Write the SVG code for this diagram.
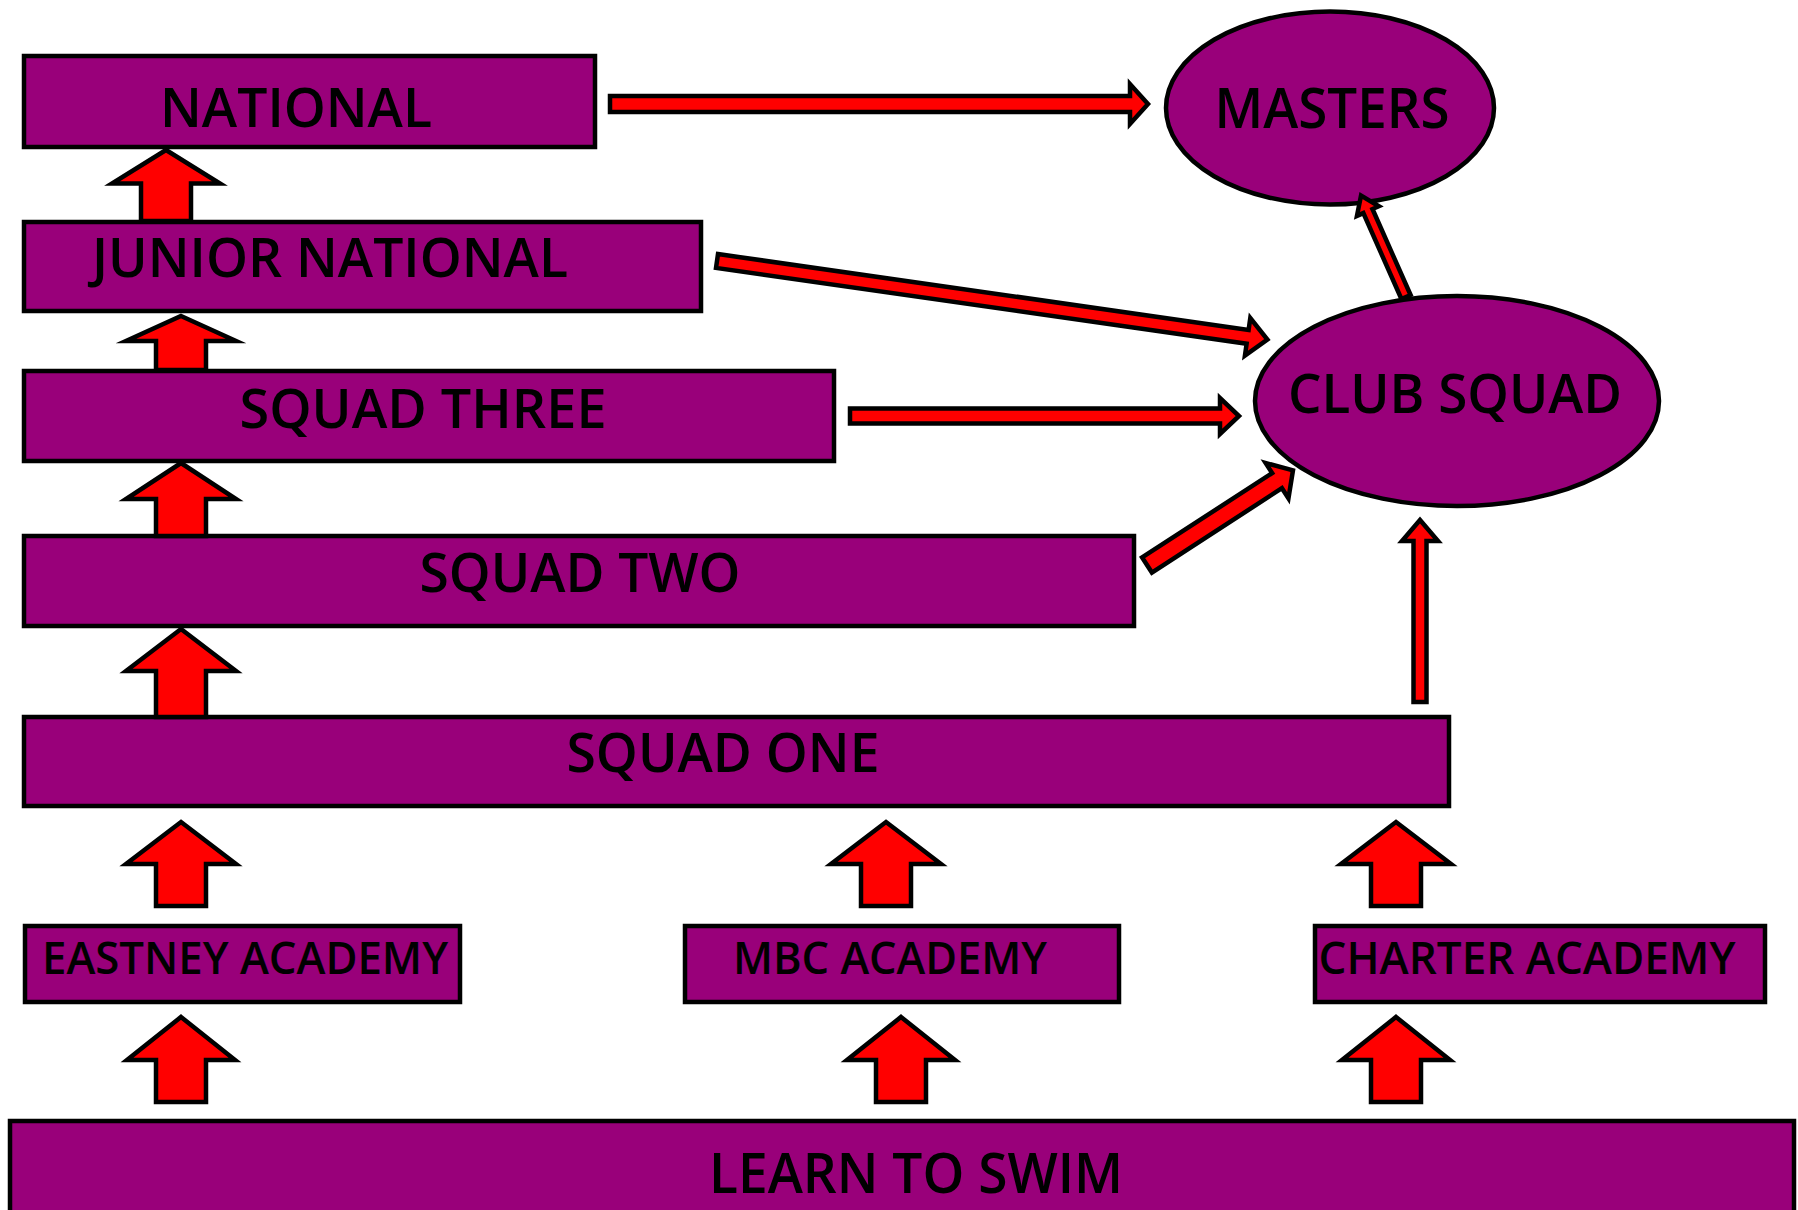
<svg xmlns="http://www.w3.org/2000/svg" width="1798" height="1210" viewBox="0 0 1798 1210">
<style>
.n{fill:#99007A;stroke:#000;stroke-width:4.5}
.a{fill:#FF0000;stroke:#000;stroke-width:4.5;stroke-linejoin:miter;stroke-miterlimit:10}
.t{font-family:"Open Sans","Liberation Sans",sans-serif;font-size:55px;font-weight:600;fill:#000;text-anchor:middle}
.s{font-size:45px}
</style>
<rect width="1798" height="1210" fill="#fff"/>
<g id="national"><rect class="n" x="24" y="56" width="571" height="91"/><text class="t" x="296" y="127" textLength="272" lengthAdjust="spacingAndGlyphs">NATIONAL</text></g>
<g id="junior-national"><rect class="n" x="24" y="222" width="677" height="89"/><text class="t" x="330" y="277" textLength="476" lengthAdjust="spacingAndGlyphs">JUNIOR NATIONAL</text></g>
<g id="squad-three"><rect class="n" x="24" y="371" width="810" height="90"/><text class="t" x="423" y="428" textLength="367" lengthAdjust="spacingAndGlyphs">SQUAD THREE</text></g>
<g id="squad-two"><rect class="n" x="24" y="536" width="1110" height="90"/><text class="t" x="580" y="592" textLength="321" lengthAdjust="spacingAndGlyphs">SQUAD TWO</text></g>
<g id="squad-one"><rect class="n" x="24" y="717" width="1425" height="89"/><text class="t" x="723" y="772" textLength="313" lengthAdjust="spacingAndGlyphs">SQUAD ONE</text></g>
<g id="eastney-academy"><rect class="n" x="25" y="926" width="435" height="76"/><text class="t s" x="245" y="974" textLength="406" lengthAdjust="spacingAndGlyphs">EASTNEY ACADEMY</text></g>
<g id="mbc-academy"><rect class="n" x="685" y="926" width="434" height="76"/><text class="t s" x="890" y="974" textLength="314" lengthAdjust="spacingAndGlyphs">MBC ACADEMY</text></g>
<g id="charter-academy"><rect class="n" x="1315" y="926" width="450" height="76"/><text class="t s" x="1527" y="974" textLength="417" lengthAdjust="spacingAndGlyphs">CHARTER ACADEMY</text></g>
<g id="learn-to-swim"><rect class="n" x="10" y="1121" width="1784" height="110"/><text class="t" style="font-size:56px" x="916" y="1193" textLength="414" lengthAdjust="spacingAndGlyphs">LEARN TO SWIM</text></g>
<g id="masters"><ellipse class="n" cx="1330" cy="108" rx="164" ry="96.5"/><text class="t" style="font-size:56px" x="1332" y="128" textLength="235" lengthAdjust="spacingAndGlyphs">MASTERS</text></g>
<g id="club-squad"><ellipse class="n" cx="1457" cy="401" rx="202" ry="105"/><text class="t" x="1455" y="413" textLength="334" lengthAdjust="spacingAndGlyphs">CLUB SQUAD</text></g>
<g id="connectors">
<path class="a" d="M166,150 L220,183.5 L191,183.5 L191,221 L141,221 L141,183.5 L112,183.5 Z"/>
<path class="a" d="M181,316 L236,341 L206,341 L206,370 L156,370 L156,341 L126,341 Z"/>
<path class="a" d="M181,463 L236,499 L206,499 L206,536 L156,536 L156,499 L126,499 Z"/>
<path class="a" d="M181,629 L236,671 L206,671 L206,717 L156,717 L156,671 L126,671 Z"/>
<path class="a" d="M181,822 L236,864 L206,864 L206,906 L156,906 L156,864 L126,864 Z"/>
<path class="a" d="M886,822 L941,864 L911,864 L911,906 L861,906 L861,864 L831,864 Z"/>
<path class="a" d="M1396,822 L1451,864 L1421,864 L1421,906 L1371,906 L1371,864 L1341,864 Z"/>
<path class="a" d="M181,1017 L235,1060 L206,1060 L206,1102 L156,1102 L156,1060 L127,1060 Z"/>
<path class="a" d="M901,1017 L955,1060 L926,1060 L926,1102 L876,1102 L876,1060 L847,1060 Z"/>
<path class="a" d="M1396,1017 L1450,1060 L1421,1060 L1421,1102 L1371,1102 L1371,1060 L1342,1060 Z"/>
<path class="a" transform="translate(610,104)" d="M0,-8 L520,-8 L520,-20 L538,0 L520,20 L520,8 L0,8 Z"/>
<path class="a" transform="translate(717,261) rotate(8.13)" d="M0,-7 L536,-7 L536,-19 L556,0 L536,19 L536,7 L0,7 Z"/>
<path class="a" transform="translate(850,416)" d="M0,-7.5 L370,-7.5 L370,-18 L389,0 L370,18 L370,7.5 L0,7.5 Z"/>
<path class="a" transform="translate(1147,565) rotate(-32.97)" d="M0,-9 L155,-9 L155,-21 L174,0 L155,21 L155,9 L0,9 Z"/>
<path class="a" transform="translate(1420,702) rotate(-90)" d="M0,-6.5 L161,-6.5 L161,-18 L182,0 L161,18 L161,6.5 L0,6.5 Z"/>
<path class="a" transform="translate(1406,297) rotate(-113.9)" d="M0,-5 L94,-5 L94,-12 L111,0 L94,12 L94,5 L0,5 Z"/>
</g>
</svg>
